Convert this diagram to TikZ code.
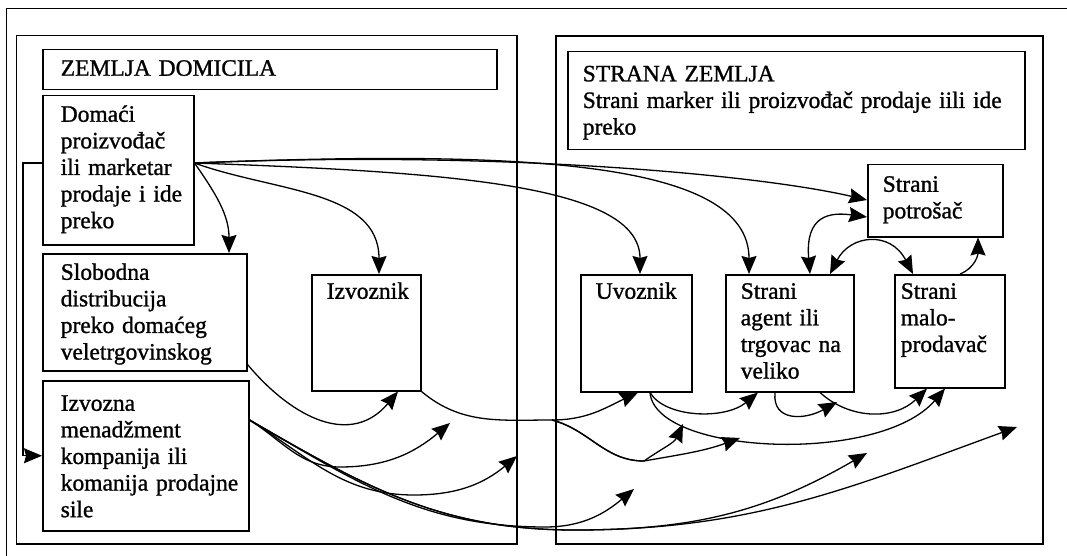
\documentclass[tikz,border=0pt]{standalone}
\usepackage{fontspec}
\setmainfont{Liberation Serif}[FakeBold=1.1]
\usetikzlibrary{arrows.meta,calc}
\hyphenpenalty=10000

\tikzset{
  box/.style={draw,line width=1.5pt,anchor=north west,align=left,inner xsep=16pt,inner ysep=4pt,
    text height=22pt,font=\fontsize{23.5}{26.6}\selectfont},
  arr/.style={-{Stealth[length=18pt,width=15pt,inset=2pt]},line width=1.3pt},
  darr/.style={{Stealth[length=18pt,width=15pt,inset=2pt]}-{Stealth[length=18pt,width=15pt,inset=2pt]},line width=1.3pt},
}

\begin{document}
\begin{tikzpicture}[x=1pt,y=-1pt]
        \useasboundingbox (0,0) rectangle (1067,556);
        % frames
        \draw[line width=1pt](6,556)--(6,8.5)--(1067,8.5);
        \draw[line width=1.5pt](16.5,35.5) rectangle (517,544);
        \draw[line width=1.5pt](556,36) rectangle (1043,544);
        % home country
        \node[box,inner xsep=18pt,text width=418pt,text depth=10pt] (zem) at (42,49) {ZEMLJA DOMICILA};
        \node[box,inner xsep=18pt,text width=115pt,text depth=119pt] (dom) at (42,95) {Domaći\\proizvođač\\ili~marketar\\prodaje~i~ide\\preko};
        \node[box,inner xsep=18pt,text width=168pt,text depth=87pt] (slob) at (42,253) {Slobodna\\distribucija\\preko~domaćeg\\veletrgovinskog};
        \node[box,inner xsep=18pt,text width=170pt,text height=26pt,text depth=116pt] (izv) at (42,380) {Izvozna\\menadžment\\kompanija~ili\\komanija~prodajne\\sile};
        \node[box,inner xsep=15pt,text width=79pt,text height=20pt,text depth=88pt] (izvk) at (311,274) {Izvoznik};
        % foreign country
        \node[box,inner xsep=15pt,text width=427pt,text height=26pt,text depth=64pt] (str) at (567,50.6) {STRANA ZEMLJA\\Strani marker ili proizvođač prodaje iili ide\\preko};
        \node[box,inner xsep=15pt,text width=105pt,text height=23pt,text depth=41pt] (potr) at (867,164) {Strani\\potrošač};
        \node[box,inner xsep=15pt,text width=81pt,text height=20pt,text depth=89pt] (uvz) at (580,274) {Uvoznik};
        \node[box,inner xsep=15pt,text width=98pt,text height=20pt,text depth=89pt] (agent) at (725,274) {Strani\\agent~ili\\trgovac~na\\veliko};
        \node[box,inner xsep=6pt,text width=98pt,text height=20pt,text depth=85pt] (malo) at (894,274) {Strani\\malo-\\prodavač};

        \coordinate (dsrc) at ($(dom.north east)+(0,68)$);
        \coordinate (isrc) at ($(izv.north east)+(0,40)$);
        \coordinate (fork) at (552,420);
        \coordinate (dip) at (644,461);
        \coordinate (low) at (575,530);
        \coordinate (e1) at (683,424);
        \coordinate (e2) at (740,438);
        \coordinate (e3) at (837,402);
        \coordinate (e4) at (450,423);
        \coordinate (e5) at (517,456);
        \coordinate (e6) at (634,489);
        \coordinate (e7) at (867,453);
        \coordinate (e8) at (1017,427);

        % from the domestic producer
        \draw[arr](dom.west |- dsrc)--++(-19,0)|-(izv.west);
        \draw[arr](dsrc) to[out=-55,in=90] ($(slob.north west)+(187,0)$);
        \draw[arr](dsrc) to[out=-20,in=90] ($(izvk.north west)+(68,0)$);
        \draw[arr](dsrc) .. controls (450,172) and (640,185) .. ($(uvz.north west)+(60,0)$);
        \draw[arr](dsrc) .. controls (520,150) and (749,160) .. ($(agent.north west)+(24,0)$);
        \draw[arr](dsrc) .. controls (500,150) and (760,175) .. ($(potr.north west)+(0,36)$);
        % foreign links
        \draw[darr]($(agent.north west)+(85,0)$) .. controls (805,215) and (830,212) .. ($(potr.north west)+(0,53)$);
        \draw[darr]($(agent.north west)+(105,0)$) .. controls (850,235) and (890,230) .. ($(malo.north west)+(19,0)$);
        \draw[arr]($(malo.north west)+(66,0)$) .. controls (975,268) and (978,255) .. ($(potr.south west)+(111,0)$);
        % lower flows
        \draw[arr]($(slob.south east)+(0,-7)$) to[out=-50,in=-130,looseness=1.2] ($(izvk.south west)+(87,0)$);
        \draw[arr](izvk.south east) to[out=-40,in=180] (fork) to[out=0,in=-155] ($(uvz.south west)+(58,0)$);
        \draw[arr](fork) to[out=-15,in=180] (dip) to[out=35,in=-115] (e1);
        \draw[arr](fork) to[out=-15,in=180] (dip) to[out=10,in=-160] (e2);
        \draw[arr]($(uvz.south west)+(70,0)$) .. controls (665,418) and (725,420) .. ($(agent.south west)+(33,0)$);
        \draw[arr]($(uvz.south west)+(70,0)$) .. controls (655,455) and (880,465) .. ($(malo.south west)+(51,0)$);
        \draw[arr]($(agent.south west)+(50,0)$) .. controls (772,422) and (805,420) .. (e3);
        \draw[arr]($(agent.south west)+(95,0)$) .. controls (850,420) and (895,420) .. ($(malo.south west)+(33,0)$);
        % from the export company
        \draw[arr](isrc) to[out=-32,in=180] (340,467) to[out=0,in=-140] (e4);
        \draw[arr](isrc) to[out=-32,in=180] (414,495) to[out=0,in=-140] (e5);
        \draw[arr](isrc) to[out=-30,in=180] (545,527) to[out=0,in=-140] (e6);
        \draw[arr](isrc) to[out=-30,in=180] (low) to[out=0,in=-150] (e7);
        \draw[arr](isrc) to[out=-30,in=180] (low) to[out=0,in=-160] (e8);
\end{tikzpicture}
\end{document}
